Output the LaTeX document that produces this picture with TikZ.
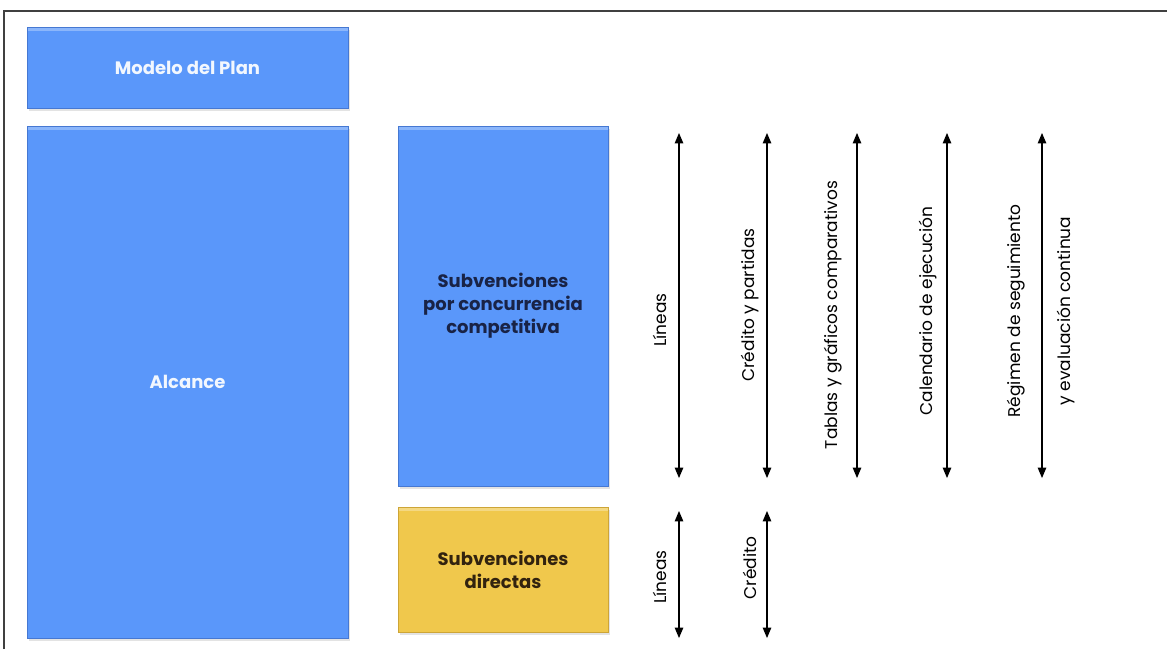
\documentclass[tikz,border=0pt]{standalone}
\usepackage{fontspec}
\setmainfont{Poppins}
\usepackage{tikz}
\usetikzlibrary{shapes, arrows, shadows}
\usetikzlibrary{positioning}
\definecolor{planblue}{RGB}{90,151,250}
\definecolor{planedge}{RGB}{70,120,210}
\definecolor{planyellow}{RGB}{240,200,76}
\definecolor{yellowedge}{RGB}{205,165,55}
\definecolor{navytext}{RGB}{25,35,70}
\definecolor{browntext}{RGB}{50,35,15}
\tikzstyle{bluebox} = [rectangle, fill = planblue, draw = planedge,
  line width = 0.6pt, inner sep = 0, outer sep = 0, align = center,
  font = \fontsize{18}{23}\selectfont\bfseries,
  drop shadow = {shadow xshift = 2pt, shadow yshift = -3pt,
    fill = black!22, draw = none},
  path picture = {\fill [white, opacity = 0.3]
    (path picture bounding box.north west) rectangle
    ([yshift = -4pt] path picture bounding box.north east);}]
\tikzstyle{yellowbox} = [bluebox, fill = planyellow, draw = yellowedge,
  text = browntext]
\tikzstyle{span} = [triangle 45-triangle 45, line width = 1.4pt]
\tikzstyle{lbl} = [rotate = 90, align = center,
  font = \fontsize{17}{50}\selectfont]

\begin{document}
\begin{tikzpicture}[x = 1pt, y = -1pt]
      \useasboundingbox (0, 0) rectangle (1167, 649);
      % frame
      \draw [line width = 1.5pt, black!75] (4, 649) -- (4, 11) -- (1167, 11);

      % left column
      \node [bluebox, text = white!92!planblue, minimum width = 321,
        minimum height = 81] (modelo) at (187.5, 67.5) {Modelo del Plan};
      \node [bluebox, text = white!92!planblue, minimum width = 321,
        minimum height = 512, below = 18pt of modelo] (alcance) {Alcance};

      % middle column
      \node [bluebox, text = navytext, minimum width = 210,
        minimum height = 360, anchor = north west]
        (concurrencia) at ([xshift = 50pt] alcance.north east)
        {Subvenciones\\por concurrencia\\competitiva};
      \node [yellowbox, minimum width = 210, minimum height = 125,
        below = 21pt of concurrencia] (directas) {Subvenciones\\directas};

      % arrow ends
      \coordinate (lineas-a) at (679, 133);
      \coordinate (lineas-b) at (679, 478);
      \coordinate (credito-a) at (767, 133);
      \coordinate (credito-b) at (767, 478);
      \coordinate (tablas-a) at (857, 133);
      \coordinate (tablas-b) at (857, 478);
      \coordinate (calendario-a) at (947, 133);
      \coordinate (calendario-b) at (947, 478);
      \coordinate (regimen-a) at (1042, 133);
      \coordinate (regimen-b) at (1042, 478);
      \coordinate (dlineas-a) at (679, 511);
      \coordinate (dlineas-b) at (679, 638);
      \coordinate (dcredito-a) at (767, 511);
      \coordinate (dcredito-b) at (767, 638);

      \draw [span] (lineas-a) -- (lineas-b);
      \draw [span] (credito-a) -- (credito-b);
      \draw [span] (tablas-a) -- (tablas-b);
      \draw [span] (calendario-a) -- (calendario-b);
      \draw [span] (regimen-a) -- (regimen-b);
      \draw [span] (dlineas-a) -- (dlineas-b);
      \draw [span] (dcredito-a) -- (dcredito-b);

      % labels
      \node [lbl] (lineas) at (660, 320) {Líneas};
      \node [lbl] (credito) at (750, 305) {Crédito y partidas};
      \node [lbl] (tablas) at (833, 315) {Tablas y gráficos comparativos};
      \node [lbl] (calendario) at (928, 311) {Calendario de ejecución};
      \node [lbl] (regimen) at (1041, 311)
        {Régimen de seguimiento\\y evaluación continua};
      \node [lbl] (dlineas) at (660, 577) {Líneas};
      \node [lbl] (dcredito) at (750, 568) {Crédito};
    \end{tikzpicture}
\end{document}
